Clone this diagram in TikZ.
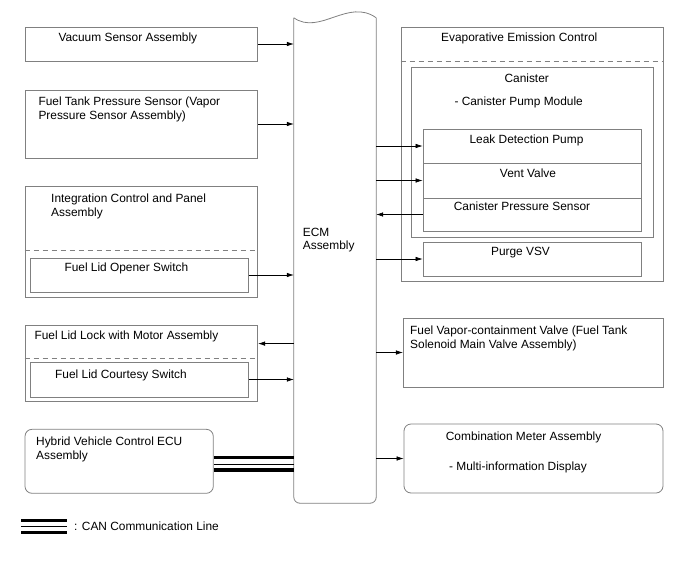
\documentclass[tikz,border=0pt]{standalone}
\usepackage{fontspec}
\setmainfont{Liberation Sans}
\usetikzlibrary{arrows.meta}
\definecolor{boxgray}{RGB}{128,128,128}

\begin{document}
\begin{tikzpicture}[x=1pt,y=-1pt,font=\fontsize{11.9}{13.6}\selectfont,
  blk/.style={draw=boxgray,line width=0.8pt,inner sep=0pt},
  sep/.style={draw=boxgray,line width=0.8pt,dash pattern=on 5pt off 4pt},
  txt/.style={anchor=north west,inner sep=0pt,align=left},
  ctxt/.style={anchor=north,inner sep=0pt},
  sig/.style={line width=0.6pt,-{Latex[length=7pt,width=4.5pt]}},
  canbus/.style={line width=3.3pt},
  canmid/.style={line width=0.8pt}]
  \useasboundingbox (0,0) rectangle (688,560);
  % ECM
  \node[minimum width=82pt,minimum height=485pt,inner sep=0pt] (ecm) at (335,260.5) {};
  \draw[draw=boxgray,line width=0.8pt,rounded corners=6pt] (ecm.north east) -- (ecm.south east) -- (ecm.south west) -- (ecm.north west);
  \draw[draw=boxgray,line width=0.8pt] (ecm.north west) .. controls +(26,18) and +(-28,-20) .. (ecm.north east);
  \node[txt,font=\fontsize{11.9}{12.6}\selectfont] (ecmtxt) at (302.7,228) {ECM\\Assembly};
  % left side
  \node[blk,minimum width=232.7pt,minimum height=34pt] (vac) at (141.35,44) {};
  \node[txt] (vactxt) at (58.3,32.2) {Vacuum Sensor Assembly};
  \node[blk,minimum width=232.7pt,minimum height=68pt] (ftp) at (141.35,124) {};
  \node[txt] (ftptxt) at (38.3,97) {Fuel Tank Pressure Sensor (Vapor\\Pressure Sensor Assembly)};
  \node[blk,minimum width=232.7pt,minimum height=111pt] (icp) at (141.35,241.5) {};
  \node[txt] (icptxt) at (51,193.8) {Integration Control and Panel\\Assembly};
  \draw[sep] (icp.north west) ++(0,65) -- ++(232.7,0);
  \node[blk,minimum width=217.6pt,minimum height=34pt] (opn) at (139.5,275) {};
  \node[txt] (opntxt) at (64.3,262.5) {Fuel Lid Opener Switch};
  \node[blk,minimum width=232.7pt,minimum height=76pt] (lock) at (141.35,363) {};
  \node[txt] (locktxt) at (34.3,330.5) {Fuel Lid Lock with Motor Assembly};
  \draw[sep] (lock.north west) ++(0,34) -- ++(232.7,0);
  \node[blk,minimum width=217.6pt,minimum height=35pt] (cts) at (139.5,379.5) {};
  \node[txt] (ctstxt) at (55,369.8) {Fuel Lid Courtesy Switch};
  \node[blk,rounded corners=7pt,minimum width=188.3pt,minimum height=64pt] (hyb) at (119.15,461.3) {};
  \node[txt] (hybtxt) at (36,437) {Hybrid Vehicle Control ECU\\Assembly};
  % right side
  \node[blk,minimum width=262pt,minimum height=254pt] (evap) at (532,154) {};
  \node[txt] (evaptxt) at (441,33) {Evaporative Emission Control};
  \draw[sep] (evap.north west) ++(0,35) -- ++(262,0);
  \node[blk,minimum width=242pt,minimum height=170pt] (can) at (532,152) {};
  \node[ctxt] (cantxt) at (526.7,74) {Canister};
  \node[txt] (cpmtxt) at (454.3,97) {- Canister Pump Module};
  \node[blk,minimum width=218pt,minimum height=34pt] (ldp) at (532,146) {};
  \node[ctxt] (ldptxt) at (526.5,135) {Leak Detection Pump};
  \node[blk,minimum width=218pt,minimum height=35pt] (vv) at (532,180.5) {};
  \node[ctxt] (vvtxt) at (528,169) {Vent Valve};
  \node[blk,minimum width=218pt,minimum height=33pt] (cps) at (532,214.5) {};
  \node[ctxt] (cpstxt) at (522,202) {Canister Pressure Sensor};
  \node[blk,minimum width=218pt,minimum height=34pt] (pvsv) at (532,259) {};
  \node[ctxt] (pvsvtxt) at (520.5,246.5) {Purge VSV};
  \node[blk,minimum width=260pt,minimum height=69pt] (fvc) at (533.3,352.5) {};
  \node[txt] (fvctxt) at (410,326) {Fuel Vapor-containment Valve (Fuel Tank\\Solenoid Main Valve Assembly)};
  \node[blk,rounded corners=7pt,minimum width=259pt,minimum height=69pt] (cmb) at (533.5,458.5) {};
  \node[txt] (cmbtxt) at (445.7,431.5) {Combination Meter Assembly};
  \node[txt] (midtxt) at (449,461.5) {- Multi-information Display};
  % signals
  \draw[sig] (vac.east) -- (vac.east -| ecm.west);
  \draw[sig] (ftp.east) -- (ftp.east -| ecm.west);
  \draw[sig] (opn.east) -- (opn.east -| ecm.west);
  \coordinate (lockin) at ([yshift=-19pt]lock.north east);
  \draw[sig] (lockin -| ecm.west) -- (lockin);
  \draw[sig] (cts.east) -- (cts.east -| ecm.west);
  \draw[sig] (ldp.west -| ecm.east) -- (ldp.west);
  \draw[sig] (vv.west -| ecm.east) -- (vv.west);
  \draw[sig] (cps.west) -- (cps.west -| ecm.east);
  \draw[sig] (pvsv.west -| ecm.east) -- (pvsv.west);
  \draw[sig] (fvc.west -| ecm.east) -- (fvc.west);
  \draw[sig] (cmb.west -| ecm.east) -- (cmb.west);
  % CAN
  \coordinate (canhi) at ([yshift=4pt]hyb.east);
  \coordinate (canmd) at ([yshift=-3pt]hyb.east);
  \coordinate (canlo) at ([yshift=-8.7pt]hyb.east);
  \draw[canbus] (canhi) -- (canhi -| ecm.west);
  \draw[canmid] (canmd) -- (canmd -| ecm.west);
  \draw[canbus] (canlo) -- (canlo -| ecm.west);
  % legend
  \coordinate (lgdhi) at (21,520.7);
  \coordinate (lgdmd) at (21,526.3);
  \coordinate (lgdlo) at (21,532.5);
  \draw[canbus] (lgdhi) -- ++(46,0);
  \draw[canmid] (lgdmd) -- ++(46,0);
  \draw[canbus] (lgdlo) -- ++(46,0);
  \node[txt] (lgdtxt) at (74,521.5) {: CAN Communication Line};
\end{tikzpicture}
\end{document}
